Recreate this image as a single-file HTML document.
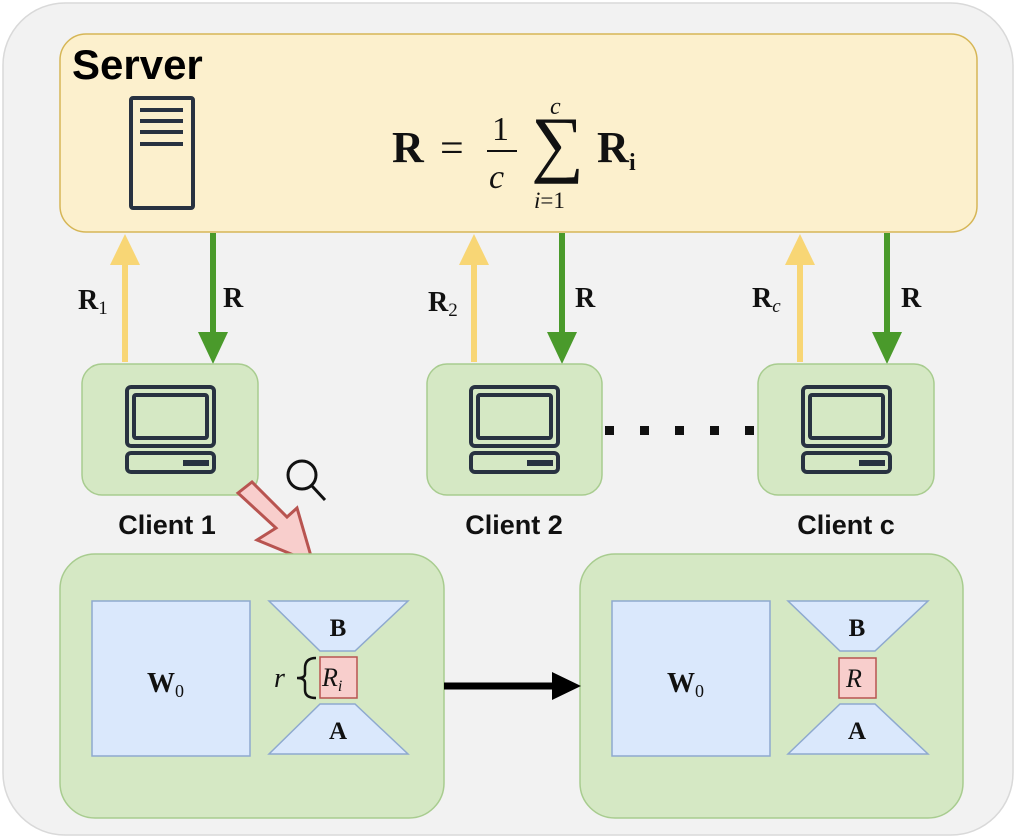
<!DOCTYPE html>
<html><head><meta charset="utf-8"><style>
html,body{margin:0;padding:0;background:#fff;}
svg{display:block;}
.sf{font-family:"Liberation Serif",serif;}
.ss{font-family:"Liberation Sans",sans-serif;font-weight:bold;}
</style></head><body>
<svg width="1016" height="838" viewBox="0 0 1016 838" xmlns="http://www.w3.org/2000/svg">
<defs>
<g id="mon">
<rect x="-43" y="-45" width="87" height="59" rx="4" fill="none" stroke="#283241" stroke-width="4"/>
<rect x="-36" y="-37" width="73" height="43" rx="2" fill="none" stroke="#283241" stroke-width="4"/>
<rect x="-43" y="21" width="87" height="19" rx="4" fill="none" stroke="#283241" stroke-width="4"/>
<rect x="13" y="28" width="26" height="6" fill="#283241"/>
</g>
</defs>
<rect x="3" y="3" width="1010" height="832" rx="62" fill="#f2f2f2" stroke="#d9d9d9" stroke-width="1.5"/>
<!-- server -->
<rect x="60" y="34" width="917" height="198" rx="26" fill="#fcf0cd" stroke="#d6b656" stroke-width="1.5"/>
<text x="72" y="79" class="ss" font-size="42">Server</text>
<rect x="131" y="98" width="62" height="110" rx="2" fill="none" stroke="#283241" stroke-width="4"/>
<g stroke="#283241" stroke-width="4"><line x1="140" y1="110" x2="183" y2="110"/><line x1="140" y1="121" x2="183" y2="121"/><line x1="140" y1="132" x2="183" y2="132"/><line x1="140" y1="144" x2="183" y2="144"/></g>
<!-- formula -->
<g class="sf" fill="#111">
<text x="392" y="162" font-size="44" font-weight="bold">R</text>
<text x="440" y="162" font-size="42">=</text>
<text x="492" y="140" font-size="34">1</text>
<line x1="487" y1="151" x2="517" y2="151" stroke="#111" stroke-width="2"/>
<text x="489" y="188" font-size="34" font-style="italic">c</text>
<text x="531" y="168" font-size="74">∑</text>
<text x="550" y="114" font-size="24" font-style="italic">c</text>
<text x="534" y="208" font-size="23"><tspan font-style="italic">i</tspan>=1</text>
<text x="597" y="162" font-size="44" font-weight="bold">R</text>
<text x="629" y="170" font-size="24" font-weight="bold">i</text>
</g>
<!-- arrows -->
<g stroke-width="6">
<line x1="125" y1="362" x2="125" y2="258" stroke="#f8d675"/>
<line x1="474" y1="362" x2="474" y2="258" stroke="#f8d675"/>
<line x1="800" y1="362" x2="800" y2="258" stroke="#f8d675"/>
<line x1="213" y1="233" x2="213" y2="338" stroke="#4a9a2b"/>
<line x1="562" y1="233" x2="562" y2="338" stroke="#4a9a2b"/>
<line x1="887" y1="233" x2="887" y2="338" stroke="#4a9a2b"/>
</g>
<g fill="#f8d675"><polygon points="125,234 110,265 140,265"/><polygon points="474,234 459,265 489,265"/><polygon points="800,234 785,265 815,265"/></g>
<g fill="#4a9a2b"><polygon points="213,364 198,332 228,332"/><polygon points="562,364 547,332 577,332"/><polygon points="887,364 872,332 902,332"/></g>
<g class="sf" font-weight="bold" fill="#111" font-size="28">
<text x="78" y="309">R<tspan font-size="19" font-weight="normal" dy="5">1</tspan></text>
<text x="223" y="307">R</text>
<text x="428" y="311">R<tspan font-size="19" font-weight="normal" dy="5">2</tspan></text>
<text x="575" y="307">R</text>
<text x="752" y="307">R<tspan font-size="19" font-weight="normal" font-style="italic" dy="5">c</tspan></text>
<text x="901" y="307">R</text>
</g>
<!-- clients -->
<g fill="#d5e8c4" stroke="#a8cc8f" stroke-width="1.5">
<rect x="82" y="364" width="176" height="131" rx="20"/>
<rect x="427" y="364" width="175" height="131" rx="20"/>
<rect x="758" y="364" width="176" height="131" rx="20"/>
</g>
<use href="#mon" x="170" y="432"/>
<use href="#mon" x="514" y="432"/>
<use href="#mon" x="846" y="432"/>
<g fill="#111"><rect x="605" y="426" width="9" height="9"/><rect x="640" y="426" width="9" height="9"/><rect x="675" y="426" width="9" height="9"/><rect x="710" y="426" width="9" height="9"/><rect x="745" y="426" width="9" height="9"/></g>
<g class="ss" font-size="27" fill="#111" text-anchor="middle">
<text x="167" y="534">Client 1</text>
<text x="514" y="534">Client 2</text>
<text x="846" y="534">Client c</text>
</g>
<!-- magnifier -->
<circle cx="302" cy="475" r="14" fill="none" stroke="#111" stroke-width="3"/>
<line x1="312" y1="486" x2="325" y2="500" stroke="#111" stroke-width="3"/>
<!-- red hollow arrow -->
<polygon points="238,493 252,482 287,517 297,508 313,563 257,540 276,528" fill="#f8cecc" stroke="#b85450" stroke-width="3" stroke-linejoin="miter"/>
<!-- bottom boxes -->
<rect x="60" y="554" width="384" height="264" rx="35" fill="#d5e8c4" stroke="#a8cc8f" stroke-width="1.5"/>
<rect x="580" y="554" width="383" height="264" rx="35" fill="#d5e8c4" stroke="#a8cc8f" stroke-width="1.5"/>
<g fill="#dae8fc" stroke="#8ea9cf" stroke-width="1.5">
<rect x="92" y="601" width="158" height="155"/>
<polygon points="269,601 408,601 355,651 320,651"/>
<polygon points="320,704 355,704 408,754 269,754"/>
<rect x="612" y="601" width="158" height="155"/>
<polygon points="788,601 928,601 875,651 840,651"/>
<polygon points="840,704 875,704 928,754 788,754"/>
</g>
<rect x="320" y="657" width="37" height="41" fill="#f8cecc" stroke="#b85450" stroke-width="1.5"/>
<rect x="839" y="658" width="37" height="40" fill="#f8cecc" stroke="#b85450" stroke-width="1.5"/>
<g class="sf" fill="#111">
<text x="147" y="692" font-size="28" font-weight="bold">W<tspan font-size="18" font-weight="normal" dy="5">0</tspan></text>
<text x="667" y="692" font-size="28" font-weight="bold">W<tspan font-size="18" font-weight="normal" dy="5">0</tspan></text>
<text x="338" y="636" font-size="25" font-weight="bold" text-anchor="middle">B</text>
<text x="338" y="739" font-size="25" font-weight="bold" text-anchor="middle">A</text>
<text x="857" y="636" font-size="25" font-weight="bold" text-anchor="middle">B</text>
<text x="857" y="739" font-size="25" font-weight="bold" text-anchor="middle">A</text>
<text x="322" y="686" font-size="26" font-style="italic">R<tspan font-size="16" dy="5">i</tspan></text>
<text x="846" y="687" font-size="26" font-style="italic">R</text>
<text x="274" y="687" font-size="28" font-style="italic">r</text>
</g>
<path d="M316,658 Q305,658 305,668 L305,674 Q305,678 297,678 Q305,678 305,683 L305,690 Q305,698 316,698" fill="none" stroke="#111" stroke-width="2.5"/>
<!-- black arrow -->
<line x1="444" y1="686" x2="556" y2="686" stroke="#000" stroke-width="7"/>
<polygon points="581,686 552,672 552,700" fill="#000"/>
</svg>
</body></html>
